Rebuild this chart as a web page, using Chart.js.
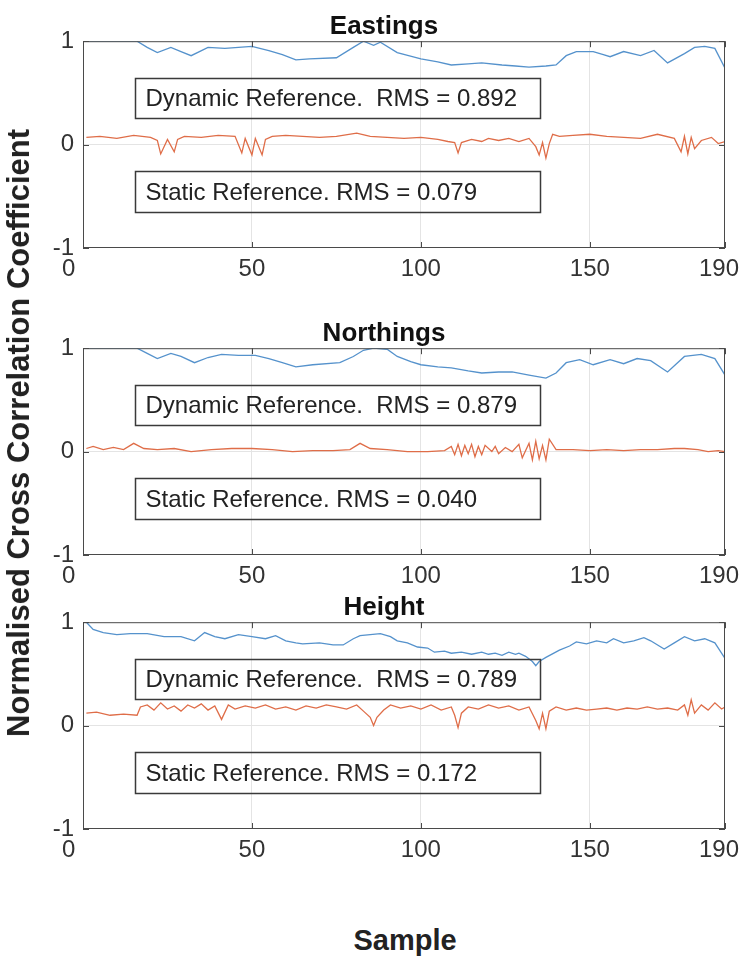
<!DOCTYPE html>
<html>
<head>
<meta charset="utf-8">
<script src="https://cdn.jsdelivr.net/npm/chart.js@4/dist/chart.umd.min.js"></script>
<style>
  html, body { margin: 0; padding: 0; background: #fff; }
  #wrap { position: relative; width: 740px; height: 964px; overflow: hidden; font-family: 'Liberation Sans', Arial, sans-serif; }
  .panel { position: absolute; left: 0; }
  #ylab { position: absolute; left: 19px; top: 433px; transform: translate(-50%, -50%) rotate(-90deg); white-space: nowrap; font-weight: bold; font-size: 31px; color: #222; }
  #xlab { position: absolute; left: 405px; top: 940px; transform: translate(-50%, -50%); white-space: nowrap; font-weight: bold; font-size: 29px; color: #222; }
</style>
</head>
<body>
<div id="wrap">
  <canvas id="east" class="panel" width="740" height="290" style="top:0px"></canvas>
  <canvas id="north" class="panel" width="740" height="290" style="top:307px"></canvas>
  <canvas id="height" class="panel" width="740" height="290" style="top:581px"></canvas>
  <div id="ylab">Normalised Cross Correlation Coefficient</div>
  <div id="xlab">Sample</div>
</div>
<script>
// three stacked cross-correlation panels

const BLUE   = '#5592cc';
const ORANGE = '#df6d48';
const FRAME  = '#4a4a4a';
const GRID   = '#e4e4e4';
const TEXT   = '#333';
const FONT   = "'Liberation Sans', Arial, sans-serif";

const XTICKS = [0, 50, 100, 150, 190];
const YTICKS = [-1, 0, 1];
const TITLES = ['Eastings', 'Northings', 'Height'];
const DYN_RMS = ['0.892', '0.879', '0.789'];
const STA_RMS = ['0.079', '0.040', '0.172'];

// Eastings
const E_DYN_X = [1, 16, 19, 22, 26, 29, 32, 37, 42, 50, 55, 59, 63, 67, 75, 80, 83, 86, 88, 93, 100, 105, 109, 114, 118, 124, 128, 132, 137, 140, 143, 146, 151, 154, 156, 160, 165, 169, 173, 178, 181, 184, 187, 190];
const E_DYN_Y = [1.0, 1.0, 0.94, 0.89, 0.94, 0.9, 0.86, 0.94, 0.93, 0.95, 0.91, 0.87, 0.82, 0.83, 0.84, 0.94, 1.0, 0.96, 0.99, 0.89, 0.83, 0.8, 0.77, 0.78, 0.79, 0.77, 0.76, 0.75, 0.76, 0.77, 0.86, 0.9, 0.9, 0.87, 0.85, 0.9, 0.86, 0.91, 0.79, 0.88, 0.94, 0.95, 0.93, 0.74];
const E_STA_X = [1, 5, 10, 15, 20, 22, 23, 25, 27, 28, 30, 35, 40, 45, 47, 48, 50, 51, 53, 54, 56, 60, 65, 70, 75, 81, 85, 90, 95, 100, 105, 108, 110, 111, 112, 115, 118, 120, 123, 126, 129, 132, 134, 135, 136, 137, 138, 139, 141, 145, 150, 155, 160, 165, 170, 175, 177, 178, 179, 180, 181, 183, 186, 188, 190];
const E_STA_Y = [0.07, 0.08, 0.06, 0.09, 0.07, 0.04, -0.09, 0.05, -0.07, 0.05, 0.08, 0.07, 0.09, 0.08, -0.08, 0.06, -0.1, 0.06, -0.1, 0.05, 0.08, 0.09, 0.08, 0.07, 0.08, 0.11, 0.08, 0.07, 0.06, 0.07, 0.05, 0.03, 0.02, -0.08, 0.02, 0.05, 0.03, 0.06, 0.04, 0.06, 0.03, 0.06, -0.02, -0.1, 0.02, -0.13, 0.01, 0.1, 0.08, 0.09, 0.1, 0.08, 0.07, 0.06, 0.1, 0.06, -0.07, 0.08, -0.09, 0.07, -0.04, 0.04, 0.07, 0.01, 0.03];

// Northings
const N_DYN_X = [1, 16, 19, 22, 26, 29, 33, 37, 41, 46, 51, 55, 59, 63, 68, 76, 80, 83, 86, 90, 93, 97, 100, 105, 109, 114, 118, 123, 127, 132, 137, 140, 143, 147, 151, 156, 160, 164, 168, 173, 178, 183, 187, 190];
const N_DYN_Y = [1.0, 1.0, 0.95, 0.9, 0.95, 0.92, 0.86, 0.91, 0.94, 0.93, 0.93, 0.9, 0.86, 0.82, 0.84, 0.86, 0.92, 0.98, 1.0, 0.99, 0.92, 0.87, 0.84, 0.82, 0.81, 0.78, 0.76, 0.77, 0.77, 0.74, 0.71, 0.76, 0.86, 0.89, 0.84, 0.89, 0.85, 0.9, 0.88, 0.77, 0.92, 0.94, 0.9, 0.74];
const N_STA_X = [1, 3, 6, 9, 12, 15, 18, 22, 27, 32, 38, 44, 50, 56, 62, 68, 74, 79, 82, 85, 90, 96, 102, 107, 109, 110, 111, 112, 113, 114, 115, 116, 117, 118, 119, 121, 122, 123, 125, 127, 129, 130, 132, 133, 134, 135, 136, 137, 138, 140, 145, 150, 155, 160, 165, 170, 175, 178, 182, 185, 188, 190];
const N_STA_Y = [0.03, 0.05, 0.02, 0.04, 0.02, 0.08, 0.03, 0.02, 0.03, 0.0, 0.02, 0.03, 0.03, 0.02, 0.0, 0.01, 0.01, 0.02, 0.08, 0.03, 0.02, 0.0, 0.0, 0.01, 0.05, -0.03, 0.07, -0.04, 0.06, -0.02, 0.07, -0.05, 0.05, -0.03, 0.06, 0.0, 0.05, -0.02, 0.04, 0.0, 0.07, -0.06, 0.08, -0.08, 0.1, -0.07, 0.06, -0.08, 0.12, 0.02, 0.02, 0.01, 0.02, 0.01, 0.02, 0.02, 0.03, 0.03, 0.02, 0.0, 0.01, 0.0];

// Height
const H_DYN_X = [1, 3, 6, 10, 14, 19, 24, 29, 33, 36, 39, 42, 46, 50, 54, 57, 60, 63, 65, 70, 74, 77, 80, 82, 85, 88, 91, 93, 96, 99, 102, 104, 107, 109, 112, 115, 118, 120, 122, 124, 126, 128, 129, 131, 133, 134, 135, 137, 141, 144, 146, 149, 152, 155, 157, 160, 163, 166, 168, 172, 175, 178, 181, 184, 187, 190];
const H_DYN_Y = [1.0, 0.93, 0.9, 0.88, 0.89, 0.89, 0.86, 0.86, 0.82, 0.9, 0.86, 0.84, 0.88, 0.86, 0.84, 0.87, 0.82, 0.8, 0.79, 0.8, 0.78, 0.78, 0.84, 0.87, 0.88, 0.89, 0.86, 0.82, 0.8, 0.76, 0.75, 0.71, 0.72, 0.7, 0.71, 0.69, 0.71, 0.69, 0.7, 0.68, 0.71, 0.69, 0.7, 0.67, 0.62, 0.58, 0.62, 0.66, 0.73, 0.77, 0.81, 0.79, 0.82, 0.8, 0.84, 0.8, 0.82, 0.85, 0.82, 0.74, 0.8, 0.86, 0.82, 0.84, 0.8, 0.65];
const H_STA_X = [1, 4, 8, 12, 16, 17, 19, 21, 23, 25, 27, 29, 31, 33, 35, 37, 39, 41, 43, 45, 48, 51, 54, 57, 60, 63, 66, 69, 72, 75, 78, 81, 83, 85, 86, 87, 89, 91, 94, 97, 100, 103, 106, 109, 110, 111, 112, 114, 117, 120, 123, 126, 129, 132, 134, 135, 136, 137, 138, 140, 143, 146, 149, 152, 155, 158, 161, 164, 167, 170, 173, 176, 178, 179, 180, 181, 183, 185, 187, 189, 190];
const H_STA_Y = [0.12, 0.13, 0.1, 0.11, 0.1, 0.18, 0.2, 0.15, 0.22, 0.16, 0.19, 0.14, 0.2, 0.17, 0.21, 0.15, 0.19, 0.06, 0.2, 0.16, 0.19, 0.17, 0.2, 0.16, 0.18, 0.15, 0.19, 0.17, 0.2, 0.18, 0.16, 0.2, 0.14, 0.08, 0.0, 0.08, 0.15, 0.2, 0.17, 0.19, 0.16, 0.2, 0.15, 0.18, 0.1, -0.02, 0.12, 0.18, 0.16, 0.2, 0.17, 0.19, 0.15, 0.18, 0.05, -0.03, 0.12, -0.03, 0.14, 0.18, 0.15, 0.17, 0.15, 0.16, 0.17, 0.15, 0.17, 0.16, 0.18, 0.16, 0.17, 0.15, 0.2, 0.1, 0.25, 0.12, 0.2, 0.15, 0.22, 0.16, 0.18];

// text box extents in data units (x from, x to) and (y top, y bottom)
const BOX_X   = [15.4, 135.2];
const DYN_BOX = [0.64, 0.26];
const STA_BOX = [-0.26, -0.65];

const zip = (xs, ys) => xs.map((x, i) => ({ x, y: ys[i] }));

// end labels sit a little left of their ticks in the original
function xLabel(v) {
  if (v === 0) return '0\u2003\u2009';
  if (v === 190) return '190\u2002';
  return String(v);
}

// frame, inward ticks and the two labelled boxes
const framePlugin = {
  id: 'frame',
  afterDatasetsDraw(chart, args, opts) {
    const { ctx, chartArea: a, scales: { x, y } } = chart;
    ctx.save();
    ctx.strokeStyle = FRAME;
    ctx.lineWidth = 1;
    ctx.strokeRect(a.left + 0.5, a.top + 0.5, a.width - 1, a.height - 1);

    ctx.beginPath();
    XTICKS.forEach(v => {
      const px = Math.round(x.getPixelForValue(v)) + 0.5;
      ctx.moveTo(px, a.bottom); ctx.lineTo(px, a.bottom - 6);
      ctx.moveTo(px, a.top); ctx.lineTo(px, a.top + 6);
    });
    YTICKS.forEach(v => {
      const py = Math.round(y.getPixelForValue(v)) + 0.5;
      ctx.moveTo(a.left, py); ctx.lineTo(a.left + 6, py);
      ctx.moveTo(a.right, py); ctx.lineTo(a.right - 6, py);
    });
    ctx.stroke();

    ctx.font = '24px ' + FONT;
    ctx.textBaseline = 'middle';
    ctx.textAlign = 'left';
    opts.boxes.forEach(b => {
      const x0 = Math.round(x.getPixelForValue(BOX_X[0])) + 0.5;
      const x1 = Math.round(x.getPixelForValue(BOX_X[1])) + 0.5;
      const y0 = Math.round(y.getPixelForValue(b.span[0])) + 0.5;
      const y1 = Math.round(y.getPixelForValue(b.span[1])) + 0.5;
      ctx.strokeStyle = '#3a3a3a';
      ctx.lineWidth = 1.5;
      ctx.strokeRect(x0, y0, x1 - x0, y1 - y0);
      ctx.fillStyle = '#222';
      ctx.fillText(b.text, x0 + 10, (y0 + y1) / 2 + 1);
    });
    ctx.restore();
  }
};

function buildPanel(id, title, dynX, dynY, staX, staY, dynRms, staRms) {
  return new Chart(document.getElementById(id), {
    type: 'line',
    data: {
      datasets: [
        { data: zip(dynX, dynY), borderColor: BLUE, borderWidth: 1.3, pointRadius: 0, tension: 0 },
        { data: zip(staX, staY), borderColor: ORANGE, borderWidth: 1.3, pointRadius: 0, tension: 0 }
      ]
    },
    options: {
      responsive: false,
      animation: false,
      events: [],
      layout: { padding: { left: 43, right: 15, top: 0, bottom: 0 } },
      plugins: {
        legend: { display: false },
        tooltip: { enabled: false },
        title: {
          display: true,
          text: title,
          color: '#111',
          font: { family: FONT, size: 26, weight: 'bold' },
          padding: { top: 11, bottom: -1 }
        },
        frame: {
          boxes: [
            { text: 'Dynamic Reference.  RMS = ' + dynRms, span: DYN_BOX },
            { text: 'Static Reference. RMS = ' + staRms, span: STA_BOX }
          ]
        }
      },
      scales: {
        x: {
          type: 'linear',
          min: 0,
          max: 190,
          afterBuildTicks: s => { s.ticks = XTICKS.map(v => ({ value: v })); },
          afterFit: s => { s.height = 42; s.paddingLeft = 0; s.paddingRight = 0; },
          border: { display: false },
          grid: { color: c => (c.tick.value === 0 || c.tick.value === 190) ? 'rgba(0,0,0,0)' : GRID, drawTicks: false },
          ticks: { color: TEXT, padding: 7, maxRotation: 0, autoSkip: false, callback: xLabel, font: { family: FONT, size: 24 } }
        },
        y: {
          min: -1,
          max: 1,
          afterBuildTicks: s => { s.ticks = YTICKS.map(v => ({ value: v })); },
          afterFit: s => { s.width = 40; },
          border: { display: false },
          grid: { color: c => c.tick.value === 0 ? GRID : 'rgba(0,0,0,0)', drawTicks: false },
          ticks: { color: TEXT, padding: 9, font: { family: FONT, size: 24 } }
        }
      }
    },
    plugins: [framePlugin]
  });
}

buildPanel('east', TITLES[0], E_DYN_X, E_DYN_Y, E_STA_X, E_STA_Y, DYN_RMS[0], STA_RMS[0]);
buildPanel('north', TITLES[1], N_DYN_X, N_DYN_Y, N_STA_X, N_STA_Y, DYN_RMS[1], STA_RMS[1]);
buildPanel('height', TITLES[2], H_DYN_X, H_DYN_Y, H_STA_X, H_STA_Y, DYN_RMS[2], STA_RMS[2]);
</script>
</body>
</html>
